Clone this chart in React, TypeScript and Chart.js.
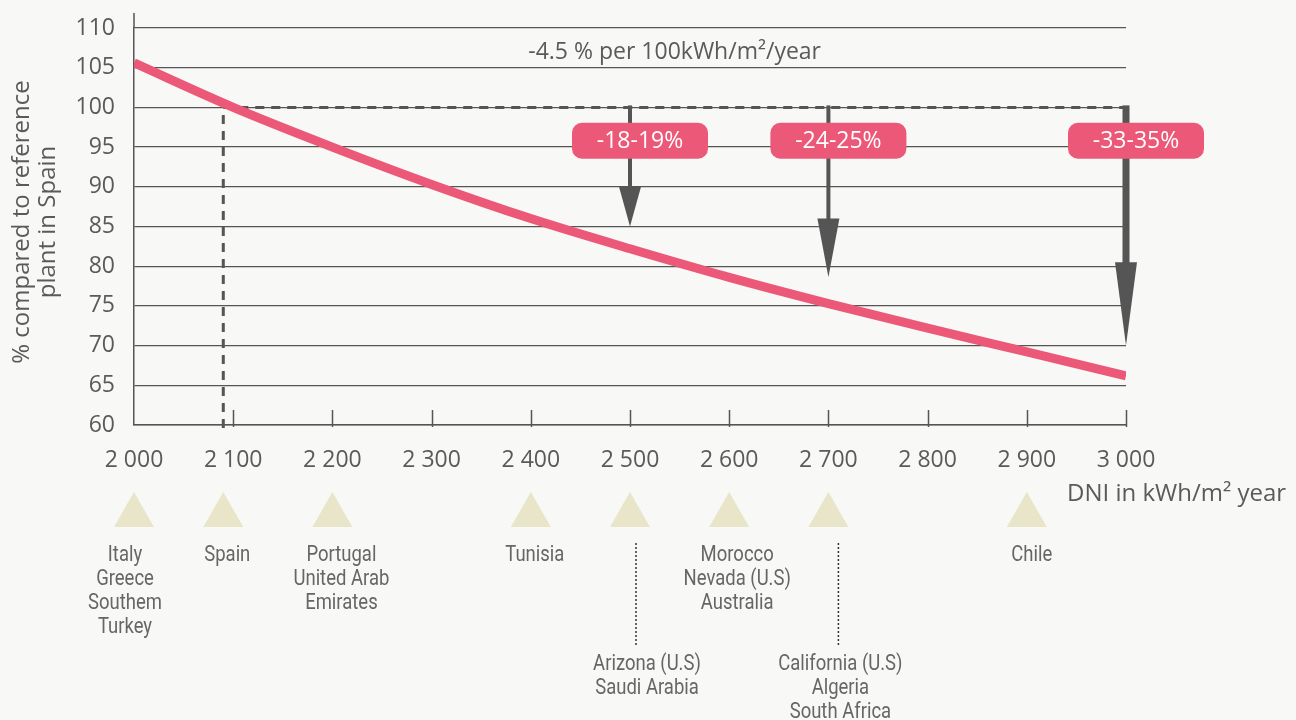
import React, { useEffect, useRef } from "react";
import { Chart, registerables } from "chart.js";

Chart.register(...registerables);

// ---------- data ----------
const dniValues = [2000, 2100, 2200, 2300, 2400, 2500, 2600, 2700, 2800, 2900, 3000];
const relativeOutput = [105.6, 100, 95, 90.3, 86, 82.2, 78.6, 75.3, 72.2, 69.2, 66.2];

const referenceDni = 2090;
const referenceLevel = 100;

const arrowDni = [2500, 2700, 3000];
const arrowHeadStart = [90, 86, 80.5];
const arrowTip = [85, 78.6, 70];
const arrowLabels = ["-18-19%", "-24-25%", "-33-35%"];
const arrowLabelLevel = 95.8;

const slopeNote = "-4.5 % per 100kWh/m²/year";
const slopeNoteDni = 2545;
const slopeNoteLevel = 106.9;

const siteDni = [2000, 2090, 2200, 2400, 2500, 2600, 2700, 2900];
const siteLabels = [
  ["Italy", "Greece", "Southem", "Turkey"],
  ["Spain"],
  ["Portugal", "United Arab", "Emirates"],
  ["Tunisia"],
  ["Arizona (U.S)", "Saudi Arabia"],
  ["Morocco", "Nevada (U.S)", "Australia"],
  ["California (U.S)", "Algeria", "South Africa"],
  ["Chile"],
];

const yTitleLines = ["% compared to reference", "plant in Spain"];
const xTitle = "DNI in kWh/m² year";

// ---------- styles / layout ----------
const MAIN_FONT = "'Open Sans', 'DejaVu Sans', sans-serif";
const NARROW_FONT = "'Liberation Sans Narrow', 'Roboto', sans-serif";
const AXIS_GRAY = "#555555";
const TEXT_GRAY = "#5a5a5a";
const PINK = "#EC5878";
const TRIANGLE = "#E8E5C8";
const BG = "#F8F8F6";
const siteLabelShift = [-9, 4, 9, 4, 17, 8, 12, 5];
const siteDrop = [false, false, false, false, true, false, true, false];
const siteDotShift = [0, 0, 0, 0, 6, 0, 10, 0];
const arrowShaftWidth = [4, 4, 7];
const NARROW_SCALE = 0.84;

function fmtThousands(v: number): string {
  return String(v).replace(/\B(?=(\d{3})+$)/, " ");
}

const annotationPlugin = {
  id: "annotations",
  beforeDatasetsDraw(chart: any) {
    const { ctx, chartArea } = chart;
    const x = chart.scales.x;
    const y = chart.scales.y;
    ctx.save();

    // small inward ticks on x axis
    ctx.strokeStyle = AXIS_GRAY;
    ctx.lineWidth = 1.5;
    x.ticks.forEach((t: any) => {
      if (t.value === x.min) return;
      const px = Math.round(x.getPixelForValue(t.value)) + 0.5;
      ctx.beginPath();
      ctx.moveTo(px, chartArea.bottom + 2);
      ctx.lineTo(px, chartArea.bottom - 15);
      ctx.stroke();
    });

    // y axis extension above top
    ctx.beginPath();
    ctx.moveTo(chartArea.left, chartArea.top);
    ctx.lineTo(chartArea.left, chartArea.top - 15);
    ctx.stroke();

    // dashed reference lines
    const rx = x.getPixelForValue(referenceDni);
    const ry = y.getPixelForValue(referenceLevel);
    ctx.setLineDash([9, 7]);
    ctx.lineWidth = 3;
    ctx.strokeStyle = AXIS_GRAY;
    ctx.beginPath();
    ctx.moveTo(rx, chartArea.bottom + 3);
    ctx.lineTo(rx, ry);
    ctx.stroke();
    ctx.beginPath();
    ctx.moveTo(rx, ry);
    ctx.lineTo(x.getPixelForValue(x.max), ry);
    ctx.stroke();
    ctx.setLineDash([]);

    // arrows
    arrowDni.forEach((d, i) => {
      const cx = x.getPixelForValue(d);
      const y0 = ry - 2;
      const yh = y.getPixelForValue(arrowHeadStart[i]);
      const yt = y.getPixelForValue(arrowTip[i]);
      ctx.fillStyle = AXIS_GRAY;
      const w = arrowShaftWidth[i];
      ctx.fillRect(cx - w / 2, y0, w, yh - y0 + 1);
      ctx.beginPath();
      ctx.moveTo(cx - 11, yh);
      ctx.lineTo(cx + 11, yh);
      ctx.lineTo(cx, yt);
      ctx.closePath();
      ctx.fill();
    });

    // arrow labels
    ctx.font = `23px ${MAIN_FONT}`;
    ctx.textAlign = "center";
    ctx.textBaseline = "middle";
    arrowDni.forEach((d, i) => {
      const cx = x.getPixelForValue(d) + 10;
      const cy = y.getPixelForValue(arrowLabelLevel);
      const bw = 136;
      const bh = 36;
      ctx.fillStyle = PINK;
      ctx.beginPath();
      (ctx as any).roundRect(cx - bw / 2, cy - bh / 2, bw, bh, 10);
      ctx.fill();
      ctx.fillStyle = "#ffffff";
      ctx.fillText(arrowLabels[i], cx, cy + 1);
    });

    // slope note
    ctx.fillStyle = TEXT_GRAY;
    ctx.font = `23px ${MAIN_FONT}`;
    ctx.fillText(slopeNote, x.getPixelForValue(slopeNoteDni), y.getPixelForValue(slopeNoteLevel));

    ctx.restore();
  },
  afterDraw(chart: any) {
    const { ctx } = chart;
    const x = chart.scales.x;
    ctx.save();

    // x axis title
    ctx.fillStyle = TEXT_GRAY;
    ctx.font = `24px ${MAIN_FONT}`;
    ctx.textAlign = "left";
    ctx.textBaseline = "middle";
    ctx.fillText(xTitle, 1067, 494);

    // y axis title
    ctx.save();
    ctx.translate(0, 222);
    ctx.rotate(-Math.PI / 2);
    ctx.textAlign = "center";
    ctx.font = `24px ${MAIN_FONT}`;
    ctx.fillText(yTitleLines[0], 0, 22);
    ctx.fillText(yTitleLines[1], 0, 48);
    ctx.restore();

    // site triangles + labels
    siteDni.forEach((d, i) => {
      const cx = x.getPixelForValue(d);
      ctx.fillStyle = TRIANGLE;
      ctx.beginPath();
      ctx.moveTo(cx, 492);
      ctx.lineTo(cx + 20, 527);
      ctx.lineTo(cx - 20, 527);
      ctx.closePath();
      ctx.fill();

      const lx = cx + siteLabelShift[i];
      let top = 555;
      if (siteDrop[i]) {
        const dx = cx + siteDotShift[i];
        ctx.strokeStyle = "#333333";
        ctx.lineWidth = 1.5;
        ctx.setLineDash([2, 2]);
        ctx.beginPath();
        ctx.moveTo(dx, 543);
        ctx.lineTo(dx, 645);
        ctx.stroke();
        ctx.setLineDash([]);
        top = 664;
      }
      ctx.fillStyle = "#666666";
      ctx.font = `22px ${NARROW_FONT}`;
      ctx.textAlign = "center";
      ctx.textBaseline = "middle";
      siteLabels[i].forEach((line, j) => {
        ctx.save();
        ctx.translate(lx, top + j * 24);
        ctx.scale(NARROW_SCALE, 1);
        ctx.fillText(line, 0, 0);
        ctx.restore();
      });
    });

    ctx.restore();
  },
};

export default function App() {
  const canvasRef = useRef<HTMLCanvasElement | null>(null);

  useEffect(() => {
    if (!canvasRef.current) return;
    const chart = new Chart(canvasRef.current, {
      type: "line",
      data: {
        datasets: [
          {
            data: dniValues.map((d, i) => ({ x: d, y: relativeOutput[i] })),
            borderColor: PINK,
            borderWidth: 9,
            pointRadius: 0,
            cubicInterpolationMode: "monotone",
            fill: false,
          },
        ],
      },
      options: {
        animation: false,
        responsive: false,
        maintainAspectRatio: false,
        layout: { padding: { left: 0, right: 170, top: 28, bottom: 0 } },
        plugins: { legend: { display: false }, tooltip: { enabled: false } },
        scales: {
          x: {
            type: "linear",
            min: 2000,
            max: 3000,
            ticks: {
              stepSize: 100,
              padding: 22,
              color: TEXT_GRAY,
              font: { family: MAIN_FONT, size: 23 },
              callback: (v: any) => fmtThousands(Number(v)),
            },
            grid: { display: false, drawTicks: false },
            border: { display: true, color: AXIS_GRAY, width: 1.5 },
            afterFit: (s: any) => {
              s.height = 295;
            },
          },
          y: {
            min: 60,
            max: 110,
            ticks: {
              stepSize: 5,
              padding: 19,
              color: TEXT_GRAY,
              font: { family: MAIN_FONT, size: 23, lineHeight: 0.4 },
            },
            grid: { color: AXIS_GRAY, lineWidth: 1.3, drawTicks: false },
            border: { display: true, color: AXIS_GRAY, width: 1.5 },
            afterFit: (s: any) => {
              s.width = 134;
            },
          },
        },
      },
      plugins: [annotationPlugin],
    } as any);
    return () => chart.destroy();
  }, []);

  return (
    <div
      style={{
        position: "fixed",
        left: 0,
        top: 0,
        width: 1296,
        height: 720,
        background: BG,
      }}
    >
      <canvas ref={canvasRef} width={1296} height={720} style={{ width: 1296, height: 720, display: "block" }} />
    </div>
  );
}
